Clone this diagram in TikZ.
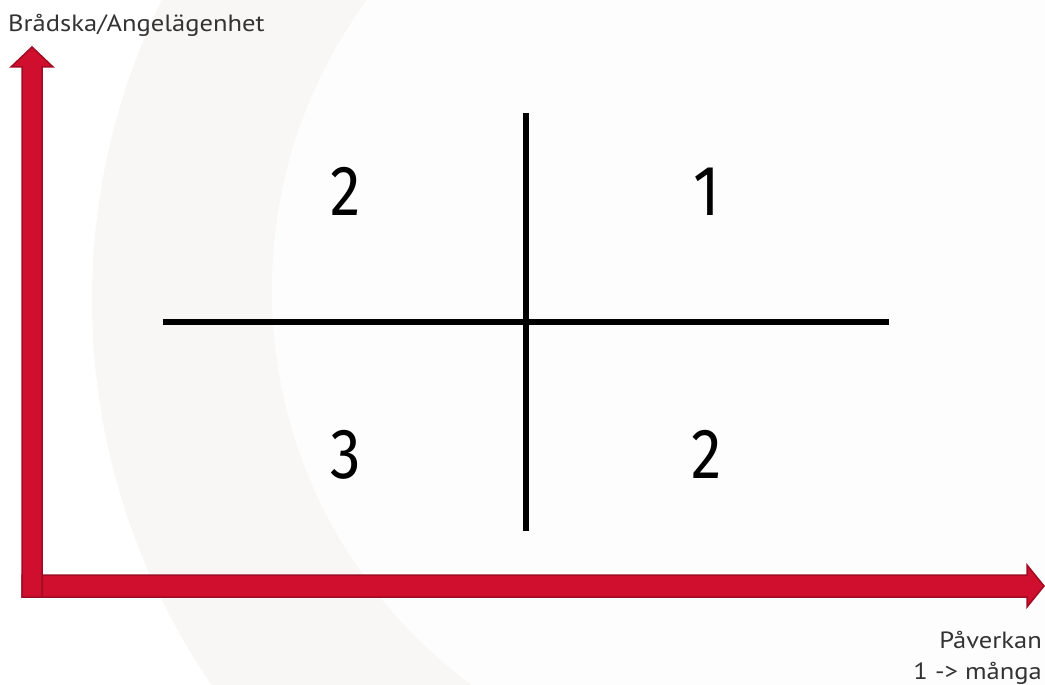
\documentclass[tikz,border=0pt]{standalone}
\usepackage{fontspec}
\setmainfont{PT Sans}
\newfontfamily\labfont[FakeStretch=1.13]{PT Sans}
\newfontfamily\numfont[FakeStretch=0.86]{Fira Sans}
\definecolor{ringc}{HTML}{F8F7F5}
\definecolor{innerc}{HTML}{FDFDFD}
\definecolor{arrowfill}{HTML}{D00E2E}
\definecolor{arrowedge}{HTML}{A00C24}
\definecolor{labc}{HTML}{333333}
\tikzset{
  redarrow/.style={fill=arrowfill, draw=arrowedge, line width=1.5pt, line join=miter},
  lab/.style={inner sep=0pt, text=labc, font=\labfont\fontsize{23.5}{26}\selectfont},
  num/.style={inner sep=0pt, text=black, font=\numfont\fontsize{71}{73}\selectfont, anchor=base},
  crossline/.style={draw=black, line width=5.5pt}
}
\begin{document}
\begin{tikzpicture}[x=1pt,y=-1pt]
\useasboundingbox (0,0) rectangle (1045,685);
\fill[white] (0,0) rectangle (1045,685);
\begin{scope}
  \clip (0,0) rectangle (1045,685);
  \fill[ringc, even odd rule] (770,300) circle (678pt) (762,290) circle (490pt);
  \fill[innerc] (762,290) circle (490pt);
\end{scope}
% axes arrows
\path[redarrow] (22,575) -- (1027,575) -- (1027,565) -- (1044,586) -- (1027,607) -- (1027,597) -- (22,597) -- cycle;
\path[redarrow] (22,597) -- (22,67) -- (11,67) -- (32,47) -- (53,67) -- (42,67) -- (42,597) -- cycle;
% cross lines
\coordinate (vt) at (526,113);
\coordinate (vb) at (526,531);
\coordinate (hl) at (163,322);
\coordinate (hr) at (889,322);
\draw[crossline] (vt) -- (vb);
\draw[crossline] (hl) -- (hr);
% labels
\node[lab, anchor=base west] (ylab) at (8,32) {Brådska/Angelägenhet};
\node[lab, anchor=base east] (xlab1) at (1042,648) {Påverkan};
\node[lab, anchor=base east] (xlab2) at (1042,679) {1 -> många};
% quadrant numbers
\node[num] (q2a) at (346,215) {2};
\node[num] (q1) at (707,215) {1};
\node[num] (q3) at (346,478) {3};
\node[num] (q2b) at (707,478) {2};
\end{tikzpicture}
\end{document}
